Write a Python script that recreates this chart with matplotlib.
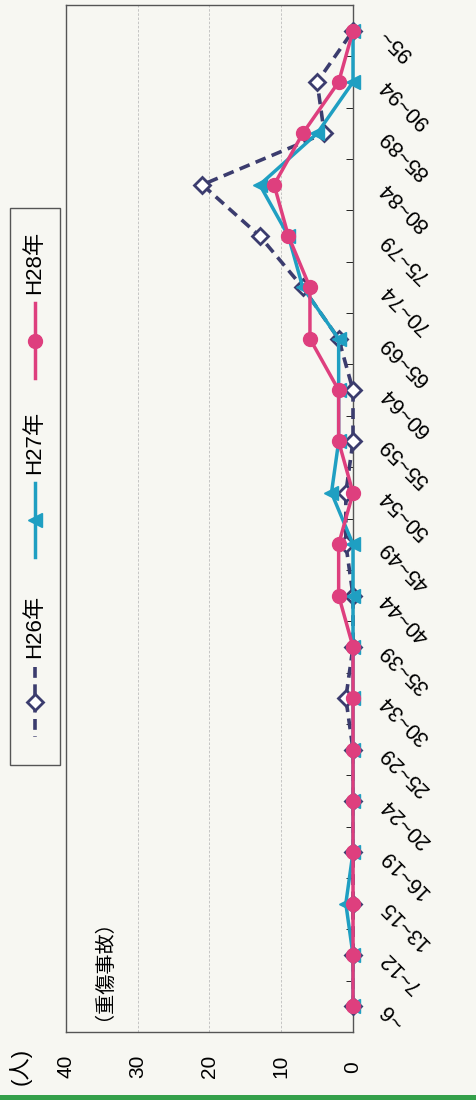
import matplotlib

matplotlib.use("Agg")
import matplotlib.pyplot as plt
from matplotlib.lines import Line2D
from matplotlib.patches import Rectangle

plt.rcParams["font.family"] = ["Liberation Sans", "Noto Sans CJK JP", "DejaVu Sans"]

# age bands (bottom -> top after the 90 deg turn of the scan)
categories = ["~6", "7~12", "13~15", "16~19", "20~24", "25~29", "30~34",
              "35~39", "40~44", "45~49", "50~54", "55~59", "60~64", "65~69",
              "70~74", "75~79", "80~84", "85~89", "90~94", "95~"]
h26 = [0, 0, 0, 0, 0, 0, 1, 0, 0, 1, 1, 0, 0, 2, 7, 13, 21, 4, 5, 0]
h27 = [0, 0, 1, 0, 0, 0, 0, 0, 0, 0, 3, 2, 2, 2, 7, 9, 13, 5, 0, 0]
h28 = [0, 0, 0, 0, 0, 0, 0, 0, 2, 2, 0, 2, 2, 6, 6, 9, 11, 7, 2, 0]
series_labels = ["H26年", "H27年", "H28年"]
value_ticks = [0, 10, 20, 30, 40]

C_PINK = "#de3f7e"
C_CYAN = "#1f9fc2"
C_NAVY = "#3b3c6e"
BG = "#f7f7f2"

W, H = 477, 1100


def fx(px):
    return px / W


def fy(py):
    return 1 - py / H


fig = plt.figure(figsize=(W / 100, H / 100), dpi=100, facecolor=BG)
ax = fig.add_axes([fx(66), fy(1032), (353 - 66) / W, (1032 - 5) / H])
ax.set_facecolor(BG)

pos = list(range(len(categories)))
ax.plot(h26, pos, color=C_NAVY, lw=2.6, linestyle=(0, (3, 1.8)), marker="D",
        ms=8, mfc="white", mec=C_NAVY, mew=2.0, clip_on=False, zorder=3)
ax.plot(h27, pos, color=C_CYAN, lw=2.5, marker="<", ms=10, clip_on=False, zorder=4)
ax.plot(h28, pos, color=C_PINK, lw=2.5, marker="o", ms=10, clip_on=False, zorder=5)

ax.set_xlim(40, 0)
ax.set_ylim(-0.5, len(categories) - 0.5)
ax.set_xticks(value_ticks)
ax.set_xticklabels([str(v) for v in value_ticks], rotation=90, va="center", fontsize=15)
ax.tick_params(axis="x", length=0, pad=25)
ax.grid(axis="x", color="#bdbdbd", lw=0.6, linestyle=(0, (3, 2)))
ax.set_axisbelow(True)

ax.yaxis.tick_right()
ax.set_yticks(pos)
ax.set_yticklabels(categories, fontsize=15.5)
for t in ax.get_yticklabels():
    t.set_rotation(135)
    t.set_rotation_mode("anchor")
    t.set_ha("right")
    t.set_va("center")
ax.tick_params(axis="y", which="major", length=0, pad=22)
ax.set_yticks([p + 0.5 for p in pos[:-1]], minor=True)
ax.tick_params(axis="y", which="minor", direction="in", length=5, right=True, left=False)

for s in ax.spines.values():
    s.set_color("#555555")
    s.set_linewidth(1.0)

ax.text(0.094, (1032 - 960) / 1027, "（重傷事故）", transform=ax.transAxes, rotation=90,
        ha="center", va="center", fontsize=14.5)
fig.text(fx(20), fy(1066), "(人)", rotation=90, ha="center", va="center", fontsize=16)

# legend drawn by hand, turned like the rest of the scan
fig.add_artist(Rectangle((fx(10), fy(765)), fx(50), (765 - 208) / H, transform=fig.transFigure,
                         fill=False, edgecolor="#555555", lw=1.0))
entries = [
    (series_labels[2], dict(color=C_PINK, lw=2.5, marker="o", ms=10), 262, 303, 378),
    (series_labels[1], dict(color=C_CYAN, lw=2.5, marker="<", ms=10), 442, 483, 557),
    (series_labels[0], dict(color=C_NAVY, lw=2.6, linestyle=(0, (3, 1.8)), marker="D", ms=8,
                            mfc="white", mec=C_NAVY, mew=2.0), 626, 667, 737),
]
for label, style, ty, y0, y1 in entries:
    fig.add_artist(Line2D([fx(35), fx(35)], [fy(y0), fy(y1)], transform=fig.transFigure,
                          **{k: v for k, v in style.items() if k not in ("marker", "ms", "mfc", "mec", "mew")}))
    mk = {k: v for k, v in style.items() if k in ("marker", "ms", "mfc", "mec", "mew", "color")}
    fig.add_artist(Line2D([fx(35)], [fy((y0 + y1) / 2)], transform=fig.transFigure, ls="none", **mk))
    fig.text(fx(35), fy(ty), label, rotation=90, ha="center", va="center", fontsize=16)

fig.add_artist(Rectangle((0, 0), 1, 5 / H, transform=fig.transFigure, color="#34a04a", lw=0))

fig.savefig("out.png", dpi=100, facecolor=BG)
